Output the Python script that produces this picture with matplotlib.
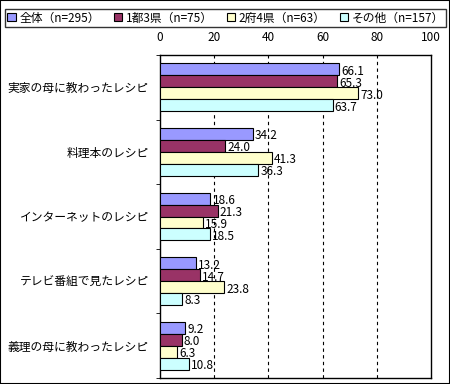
import matplotlib
matplotlib.use("Agg")
import matplotlib.pyplot as plt
from matplotlib.patches import Patch, Rectangle
import numpy as np

plt.rcParams['font.family'] = ['Noto Sans CJK JP', 'DejaVu Sans']

categories = ["実家の母に教わったレシピ", "料理本のレシピ", "インターネットのレシピ",
              "テレビ番組で見たレシピ", "義理の母に教わったレシピ"]
series_names = ["全体（n=295）", "1都3県（n=75）", "2府4県（n=63）", "その他（n=157）"]
zentai = [66.1, 34.2, 18.6, 13.2, 9.2]
toshi = [65.3, 24.0, 21.3, 14.7, 8.0]
fuken = [73.0, 41.3, 15.9, 23.8, 6.3]
sonota = [63.7, 36.3, 18.5, 8.3, 10.8]
series = [zentai, toshi, fuken, sonota]
colors = ["#9999FF", "#993366", "#FFFFCC", "#CCFFFF"]
xticks = [0, 20, 40, 60, 80, 100]

fs = 8.5
fig = plt.figure(figsize=(4.5, 3.84), dpi=100)
fig.patches.append(Rectangle((0, 0), 1, 1, transform=fig.transFigure, fill=False,
                             edgecolor="black", linewidth=1.5, zorder=10))
ax = fig.add_axes([160/450, 1-378/384, 271/450, 323/384])

n = len(categories)
h = 0.185
y = np.arange(n)
for i, (vals, c) in enumerate(zip(series, colors)):
    pos = y + (i - 1.5) * h
    ax.barh(pos, vals, height=h, color=c, edgecolor="black", linewidth=0.8, zorder=3)
    for p, v in zip(pos, vals):
        ax.text(v + 0.8, p + 0.03, f"{v:.1f}", va="center", ha="left", fontsize=fs, zorder=4)

ax.set_xlim(0, 100)
ax.set_ylim(n - 0.5, -0.5)
ax.set_xticks(xticks)
ax.xaxis.tick_top()
ax.tick_params(axis="x", length=0, pad=8, labelsize=fs)
ax.set_yticks(y)
ax.set_yticklabels(categories, fontsize=fs)
ax.set_yticks(np.arange(n + 1) - 0.5, minor=True)
ax.tick_params(axis="y", which="major", length=0, pad=8)
ax.tick_params(axis="y", which="minor", length=3, direction="out")
for gx in [20, 40, 60, 80]:
    ax.axvline(gx, color="black", linestyle=(0, (3, 3)), linewidth=0.8, zorder=1)
for s in ax.spines.values():
    s.set_linewidth(1.0)

handles = [Patch(facecolor=c, edgecolor="black", linewidth=0.8) for c in colors]
leg = fig.legend(handles, series_names, loc="upper left", ncol=4,
                 bbox_to_anchor=(5/450, 1-9/384), fontsize=fs, frameon=True,
                 fancybox=False, edgecolor="black", handlelength=0.7, handleheight=0.7,
                 handletextpad=0.3, columnspacing=1.2, borderpad=0.2, borderaxespad=0)
leg.get_frame().set_linewidth(1.0)

fig.savefig("out.png", dpi=100)
